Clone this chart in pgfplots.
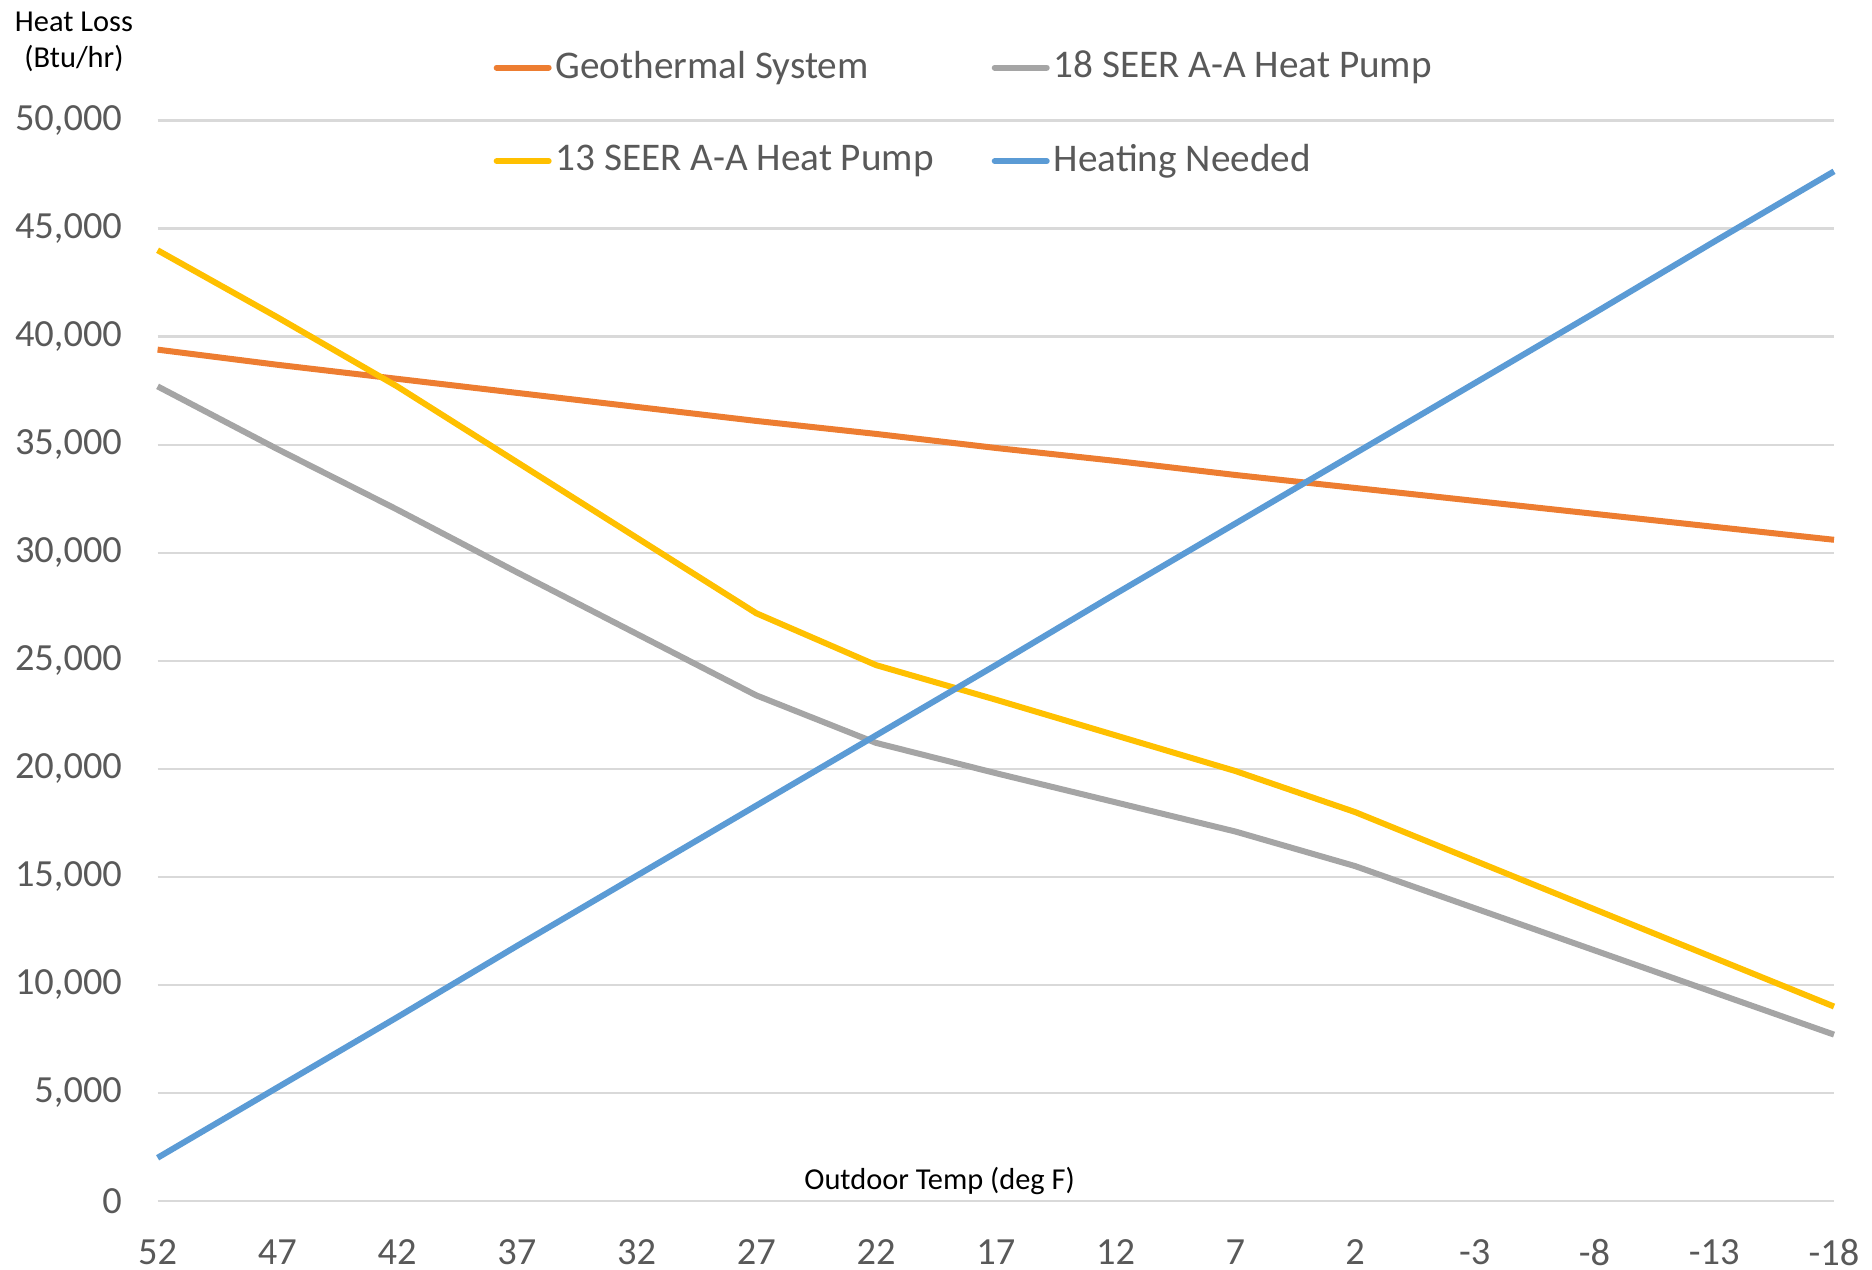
\documentclass[border=0pt]{standalone}
\usepackage{pgfplots}
\pgfplotsset{compat=1.18}
\usepackage{fontspec}
\setmainfont{Carlito}
\definecolor{cgeo}{HTML}{ED7D31}
\definecolor{cs18}{HTML}{A5A5A5}
\definecolor{cs13}{HTML}{FFC000}
\definecolor{cheat}{HTML}{5B9BD5}
\definecolor{ctick}{HTML}{595959}
\definecolor{cgrid}{HTML}{D9D9D9}
\begin{document}
\begin{tikzpicture}
\useasboundingbox (0,0) rectangle (468bp,317.5bp);
\begin{axis}[
  at={(39.4bp,17.25bp)}, anchor=south west,
  scale only axis, width=419.1bp, height=270.1bp,
  xmin=0, xmax=14, ymin=0, ymax=50000,
  xtick={0,...,14},
  xticklabels={52,47,42,37,32,27,22,17,12,7,2,-3,-8,-13,-18},
  ytick={0,5000,...,50000},
  scaled y ticks=false,
  /pgf/number format/fixed,
  /pgf/number format/1000 sep={,},
  /pgf/number format/assume math mode=true,
  ticklabel style={font=\fontsize{9.6bp}{11bp}\selectfont, text=ctick},
  major tick length=0pt,
  axis line style={draw=none},
  ymajorgrids, grid style={cgrid, line width=0.6bp},
  xticklabel style={yshift=-6.1bp},
  yticklabel style={xshift=-5.4bp},
  xlabel={Outdoor Temp (deg F)},
  xlabel style={at={(rel axis cs:0.4665,0.0189)}, anchor=center, font=\fontsize{7.6bp}{9bp}\selectfont},
  ylabel={Heat Loss\\(Btu/hr)},
  ylabel style={at={(rel axis cs:-0.0499,1.0732)}, rotate=-90, anchor=center, align=center, font=\fontsize{7.6bp}{9bp}\selectfont},
  legend columns=2,
  legend style={draw=none, fill=none, at={(rel axis cs:0.2, 1.0058)}, anchor=west,
    font=\fontsize{9.8bp}{11bp}\selectfont, text=ctick,
    /tikz/every even column/.append style={column sep=13.5bp},
    row sep=11.1bp, inner sep=0pt, nodes={inner xsep=1bp}},
  legend cell align=left,
  legend image code/.code={\draw[#1, line width=1.5bp, line cap=round] (0bp,0bp) -- (13bp,0bp);},
  every axis plot/.append style={line width=1.5bp, mark=none},
  clip=false,
]
\addplot[cgeo] coordinates {(0,39400) (1,38700) (2,38050) (3,37400) (4,36750) (5,36100) (6,35500) (7,34850) (8,34250) (9,33600) (10,33000) (11,32400) (12,31800) (13,31200) (14,30600)};
\addlegendentry{Geothermal System}
\addplot[cs18] coordinates {(0,37700) (1,34800) (2,32000) (3,29100) (4,26250) (5,23400) (6,21200) (7,19800) (8,18450) (9,17100) (10,15500) (11,13550) (12,11600) (13,9650) (14,7700)};
\addlegendentry{18 SEER A-A Heat Pump}
\addplot[cs13] coordinates {(0,44000) (1,40900) (2,37700) (3,34200) (4,30700) (5,27200) (6,24800) (7,23200) (8,21550) (9,19900) (10,18000) (11,15750) (12,13500) (13,11250) (14,9000)};
\addlegendentry{13 SEER A-A Heat Pump}
\addplot[cheat] coordinates {(0,2000) (1,5250) (2,8500) (3,11800) (4,15050) (5,18300) (6,21550) (7,24800) (8,28100) (9,31350) (10,34600) (11,37850) (12,41100) (13,44400) (14,47650)};
\addlegendentry{Heating Needed}
\end{axis}
\end{tikzpicture}
\end{document}
